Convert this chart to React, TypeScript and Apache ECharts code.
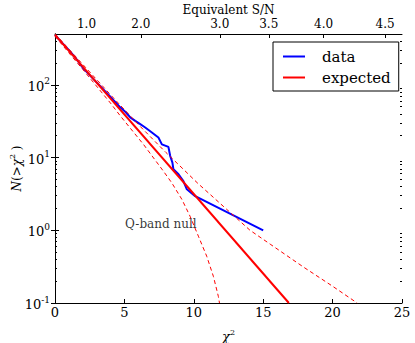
import React, { useEffect, useRef } from "react";
import * as echarts from "echarts";

// cumulative counts N(>chi2)
const dataChi2 = [0, 0.5, 1, 1.5, 2, 2.5, 3, 3.5, 4, 4.7, 5.1, 5.42, 5.78, 6.14, 6.5, 6.98, 7.45, 7.7, 8.17, 8.3, 8.46, 8.53, 8.9, 9.25, 9.5, 10.1, 15];
const dataN = [487, 380, 300, 232, 172, 136, 108, 86, 68, 49, 42, 35.6, 32, 28.8, 25.9, 22.1, 18.9, 15.2, 14.0, 10.5, 8.5, 6.9, 5.9, 4.75, 3.66, 2.95, 1.0];

const expectedChi2 = [0, 16.85];
const expectedN = [487, 0.1];

const upperChi2 = [0, 2, 4, 6, 8, 9.25, 10.3, 12.37, 14.05, 15.5, 17.88, 20, 21.77];
const upperN = [505, 191, 73, 28.5, 11.7, 6.9, 4.4, 1.94, 1.0, 0.645, 0.314, 0.17, 0.1];

const lowerChi2 = [0, 2, 4, 4.7, 6.37, 7.81, 8.42, 9.14, 9.73, 10.33, 10.93, 11.41, 11.77, 11.85];
const lowerN = [465, 163, 56, 37.5, 15.2, 6.5, 4.47, 2.66, 1.56, 0.83, 0.44, 0.233, 0.123, 0.1];

// top axis: equivalent S/N labels and their chi2 positions
const snLabels = ["1.0", "2.0", "3.0", "3.5", "4.0", "4.5"];
const snChi2 = [2.27, 6.19, 11.87, 15.4, 19.35, 23.78];

const yMajor = [0.1, 1, 10, 100];
const yMinor = [0.2, 0.3, 0.4, 0.5, 0.6, 0.7, 0.8, 0.9, 2, 3, 4, 5, 6, 7, 8, 9, 20, 30, 40, 50, 60, 70, 80, 90, 200, 300, 400];

const annotation = { chi2: 5.05, n: 1.0, text: "Q-band null" };

const FONT = "'DejaVu Serif', 'Liberation Serif', serif";
const zip = (xs: number[], ys: number[]) => xs.map((x, i) => [x, ys[i]]);

export default function App() {
  const ref = useRef<HTMLDivElement>(null);
  useEffect(() => {
    if (!ref.current) return;
    const chart = echarts.init(ref.current, null, { renderer: "svg" });
    const black = "#000";
    const yBase = {
      type: "log" as const,
      logBase: 10,
      min: 0.1,
      max: 500,
      splitLine: { show: false },
      nameMoveOverlap: false,
    };
    const supRich = {
      b: { fontFamily: FONT, fontSize: 13, color: black, verticalAlign: "bottom" },
      s: { fontFamily: FONT, fontSize: 9, color: black, verticalAlign: "bottom", padding: [0, 0, 7, 0] },
    };
    chart.setOption({
      animation: false,
      textStyle: { fontFamily: FONT },
      grid: { left: 55, right: 13, top: 34, bottom: 40, containLabel: false, outerBoundsMode: "none" },
      legend: {
        data: ["data", "expected"],
        orient: "vertical",
        left: 273,
        top: 42,
        padding: [7, 8, 6, 10],
        itemGap: 6,
        itemWidth: 22,
        itemHeight: 2,
        icon: "rect",
        borderColor: black,
        borderWidth: 1,
        borderRadius: 0,
        backgroundColor: "#fff",
        textStyle: { fontFamily: FONT, fontSize: 15, color: black, padding: [0, 0, 0, 12] },
      },
      xAxis: [
        {
          type: "value",
          min: 0,
          max: 25,
          interval: 5,
          position: "bottom",
          nameMoveOverlap: false,
          axisLine: { lineStyle: { color: black, width: 1 } },
          axisTick: { inside: true, length: 4, lineStyle: { color: black } },
          axisLabel: { fontFamily: FONT, fontSize: 13, color: black, margin: 9, verticalAlign: "middle" },
          splitLine: { show: false },
          name: "{i|χ}{s|2}",
          nameLocation: "middle",
          nameGap: 25,
          nameTextStyle: {
            rich: {
              i: { fontFamily: FONT, fontStyle: "italic", fontSize: 13, color: black, verticalAlign: "bottom" },
              s: { fontFamily: FONT, fontSize: 8, color: black, verticalAlign: "bottom", padding: [0, 0, 7, 0] },
            },
          },
        },
        {
          type: "value",
          min: 0,
          max: 25,
          position: "top",
          nameMoveOverlap: false,
          axisLine: { lineStyle: { color: black, width: 1 } },
          axisTick: { inside: true, length: 4, lineStyle: { color: black }, customValues: snChi2 },
          axisLabel: {
            fontFamily: FONT,
            fontSize: 12,
            lineHeight: 12,
            color: black,
            margin: 10,
            verticalAlign: "middle",
            customValues: snChi2,
            formatter: (v: number) => {
              const i = snChi2.findIndex((c) => Math.abs(c - v) < 1e-6);
              return i >= 0 ? snLabels[i] : "";
            },
          },
          splitLine: { show: false },
          name: "Equivalent S/N",
          nameLocation: "middle",
          nameGap: 18,
          nameTextStyle: { fontFamily: FONT, fontSize: 12, lineHeight: 13, color: black },
        },
      ],
      yAxis: [
        {
          ...yBase,
          position: "left",
          axisLine: { show: true, lineStyle: { color: black, width: 1 } },
          axisTick: { inside: true, length: 4, lineStyle: { color: black }, customValues: yMajor },
          axisLabel: {
            margin: 5,
            customValues: yMajor,
            formatter: (v: number) => `{b|10}{s|${Math.round(Math.log10(v))}}`,
            rich: supRich,
          },
          name: "{i|N}{n|(>}{i|χ}{s|2}{n| )}",
          nameLocation: "middle",
          nameRotate: 90,
          nameGap: 32,
          nameTextStyle: {
            rich: {
              i: { fontFamily: FONT, fontStyle: "italic", fontSize: 12, color: black, verticalAlign: "bottom" },
              n: { fontFamily: FONT, fontSize: 12, color: black, verticalAlign: "bottom" },
              s: { fontFamily: FONT, fontSize: 8, color: black, verticalAlign: "bottom", padding: [0, 0, 7, 0] },
            },
          },
        },
        {
          ...yBase,
          position: "right",
          axisLine: { show: true, lineStyle: { color: black, width: 1 } },
          axisTick: { inside: true, length: 4, lineStyle: { color: black }, customValues: yMajor },
          axisLabel: { show: false },
        },
        {
          ...yBase,
          position: "left",
          axisLine: { show: false },
          axisTick: { inside: true, length: 2, lineStyle: { color: black }, customValues: yMinor },
          axisLabel: { show: false },
        },
        {
          ...yBase,
          position: "right",
          axisLine: { show: false },
          axisTick: { inside: true, length: 2, lineStyle: { color: black }, customValues: yMinor },
          axisLabel: { show: false },
        },
      ],
      series: [
        {
          name: "data",
          type: "line",
          data: zip(dataChi2, dataN),
          showSymbol: false,
          lineStyle: { color: "#0000ff", width: 2 },
          itemStyle: { color: "#0000ff" },
          clip: true,
        },
        {
          name: "expected",
          type: "line",
          data: zip(expectedChi2, expectedN),
          showSymbol: false,
          lineStyle: { color: "#ff0000", width: 2 },
          itemStyle: { color: "#ff0000" },
          clip: true,
        },
        {
          name: "upper",
          type: "line",
          data: zip(upperChi2, upperN),
          showSymbol: false,
          lineStyle: { color: "#ff0000", width: 1, type: [4, 3] },
          itemStyle: { color: "#ff0000" },
          clip: true,
        },
        {
          name: "lower",
          type: "line",
          data: zip(lowerChi2, lowerN),
          showSymbol: false,
          lineStyle: { color: "#ff0000", width: 1, type: [4, 3] },
          itemStyle: { color: "#ff0000" },
          clip: true,
        },
        {
          name: "note",
          type: "scatter",
          data: [[annotation.chi2, annotation.n]],
          symbolSize: 0,
          silent: true,
          label: {
            show: true,
            position: [0, 0],
            align: "left",
            verticalAlign: "bottom",
            formatter: annotation.text,
            fontFamily: FONT,
            fontSize: 12,
            color: black,
          },
        },
      ],
    });
    return () => chart.dispose();
  }, []);
  return (
    <div
      ref={ref}
      style={{ position: "fixed", left: 0, top: 0, width: 415, height: 343, background: "#fff" }}
    />
  );
}
